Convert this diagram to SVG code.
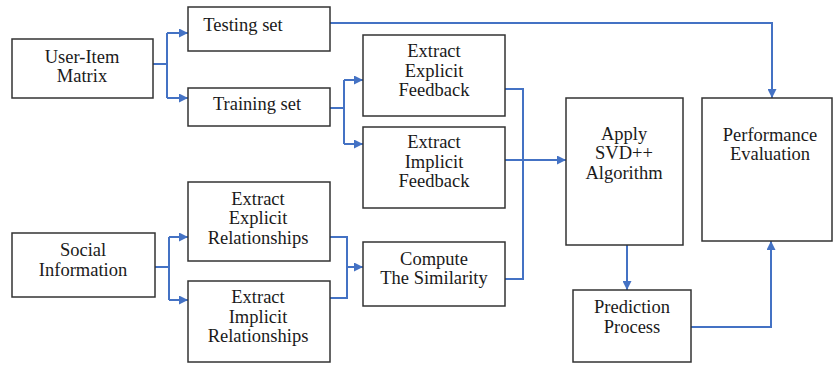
<svg xmlns="http://www.w3.org/2000/svg" width="834" height="365" viewBox="0 0 834 365">
<defs>
<style>
.box{fill:#fff;stroke:#333;stroke-width:1.5}
.t{font-family:'Liberation Serif','Times New Roman',serif;font-size:18.5px;fill:#1a1a1a;text-anchor:middle}
.c{fill:none;stroke:#4472c4;stroke-width:2}
</style>
<marker id="ah" viewBox="0 0 10 10" refX="10" refY="5" markerWidth="9" markerHeight="9" markerUnits="userSpaceOnUse" orient="auto">
<path d="M0,0 L10,5 L0,10 z" fill="#4472c4"/>
</marker>
</defs>
<rect width="834" height="365" fill="#fff"/>
<g id="connectors">
<path class="c" d="M153,64 H167 M167,33 V98"/>
<path class="c" d="M167,33 H188" marker-end="url(#ah)"/>
<path class="c" d="M167,98 H188" marker-end="url(#ah)"/>
<path class="c" d="M330,23 H772 V98" marker-end="url(#ah)"/>
<path class="c" d="M330,108 H344 M344,80 V144"/>
<path class="c" d="M344,80 H363" marker-end="url(#ah)"/>
<path class="c" d="M344,144 H363" marker-end="url(#ah)"/>
<path class="c" d="M505,89 H523 V279 H505"/>
<path class="c" d="M505,160 H566" marker-end="url(#ah)"/>
<path class="c" d="M155,267 H169 M169,237 V300"/>
<path class="c" d="M169,237 H188" marker-end="url(#ah)"/>
<path class="c" d="M169,300 H188" marker-end="url(#ah)"/>
<path class="c" d="M330,237 H347 V298 H330"/>
<path class="c" d="M347,267 H363" marker-end="url(#ah)"/>
<path class="c" d="M627,245 V290" marker-end="url(#ah)"/>
<path class="c" d="M691,327 H771 V241" marker-end="url(#ah)"/>
</g>
<g id="user-item"><rect class="box" x="12" y="39" width="141" height="59"/><text class="t" x="82" y="63">User-Item</text><text class="t" x="82" y="82">Matrix</text></g>
<g id="testing"><rect class="box" x="188" y="7" width="142" height="44"/><text class="t" x="243" y="31">Testing set</text></g>
<g id="training"><rect class="box" x="188" y="88" width="142" height="38"/><text class="t" x="257" y="110">Training set</text></g>
<g id="explicit-feedback"><rect class="box" x="363" y="35" width="142" height="81"/><text class="t" x="434" y="57">Extract</text><text class="t" x="434" y="77">Explicit</text><text class="t" x="434" y="96">Feedback</text></g>
<g id="implicit-feedback"><rect class="box" x="363" y="127" width="142" height="81"/><text class="t" x="434" y="148">Extract</text><text class="t" x="434" y="168">Implicit</text><text class="t" x="434" y="187">Feedback</text></g>
<g id="svd"><rect class="box" x="566" y="98" width="117" height="147"/><text class="t" x="624" y="140">Apply</text><text class="t" x="624" y="159">SVD++</text><text class="t" x="624" y="179">Algorithm</text></g>
<g id="performance"><rect class="box" x="702" y="98" width="130" height="143"/><text class="t" x="770" y="141">Performance</text><text class="t" x="770" y="160">Evaluation</text></g>
<g id="social"><rect class="box" x="12" y="233" width="143" height="64"/><text class="t" x="83" y="256">Social</text><text class="t" x="83" y="276">Information</text></g>
<g id="explicit-rel"><rect class="box" x="188" y="182" width="142" height="79"/><text class="t" x="258" y="205">Extract</text><text class="t" x="258" y="224">Explicit</text><text class="t" x="258" y="244">Relationships</text></g>
<g id="implicit-rel"><rect class="box" x="188" y="281" width="142" height="81"/><text class="t" x="258" y="303">Extract</text><text class="t" x="258" y="323">Implicit</text><text class="t" x="258" y="342">Relationships</text></g>
<g id="similarity"><rect class="box" x="363" y="242" width="142" height="64"/><text class="t" x="434" y="265">Compute</text><text class="t" x="434" y="284">The Similarity</text></g>
<g id="prediction"><rect class="box" x="573" y="290" width="118" height="72"/><text class="t" x="632" y="313">Prediction</text><text class="t" x="632" y="333">Process</text></g>
</svg>
